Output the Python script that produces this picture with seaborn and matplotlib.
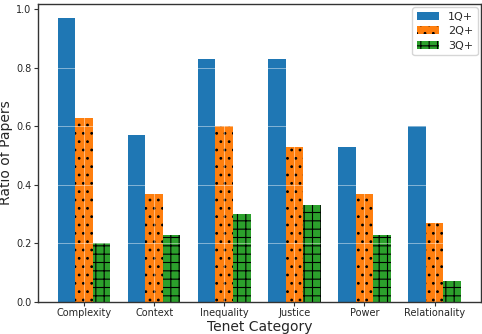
import matplotlib
matplotlib.use("Agg")
import matplotlib.pyplot as plt
import seaborn as sns
import pandas as pd

categories = ["Complexity", "Context", "Inequality", "Justice", "Power", "Relationality"]
series_names = ["1Q+", "2Q+", "3Q+"]
q1 = [0.97, 0.57, 0.83, 0.83, 0.53, 0.60]
q2 = [0.63, 0.37, 0.60, 0.53, 0.37, 0.27]
q3 = [0.20, 0.23, 0.30, 0.33, 0.23, 0.07]

colors = ["#1f77b4", "#ff7f0e", "#2ca02c"]
hatches = ["", "..", "++"]

rows = []
for name, vals in zip(series_names, [q1, q2, q3]):
    for c, v in zip(categories, vals):
        rows.append({"Tenet Category": c, "Series": name, "Ratio": v})
df = pd.DataFrame(rows)

sns.set_style("white")
plt.rcParams["font.family"] = ["DejaVu Sans"]
plt.rcParams["hatch.color"] = "black"
plt.rcParams["hatch.linewidth"] = 0.8

fig, ax = plt.subplots(figsize=(4.82, 3.34), dpi=100)
sns.barplot(data=df, x="Tenet Category", y="Ratio", hue="Series",
            palette=colors, width=0.75, saturation=1, ax=ax,
            linewidth=0, errorbar=None)

for i, cont in enumerate(ax.containers):
    for bar in cont:
        bar.set_hatch(hatches[i])
        bar.set_edgecolor("black")
        bar.set_linewidth(0)

ax.margins(x=0.05, y=0.05)
ax.set_ylim(0, 1.0185)
ax.set_yticks([0.0, 0.2, 0.4, 0.6, 0.8, 1.0])
ax.tick_params(axis="both", labelsize=7, length=3, width=0.8, color="#333333",
               pad=1.5, left=True, bottom=True)
ax.set_xlabel("Tenet Category", fontsize=10, labelpad=1)
ax.set_ylabel("Ratio of Papers", fontsize=10, labelpad=2)

ax.set_axisbelow(False)
ax.grid(True, color="white", linewidth=0.7, alpha=0.45)
for s in ax.spines.values():
    s.set_color("#333333")
    s.set_linewidth(1.0)
    s.set_zorder(4)

handles, labels = ax.get_legend_handles_labels()
for h, ht in zip(handles, hatches):
    h.set_hatch(ht)
    h.set_edgecolor("black")
    h.set_linewidth(0)
leg = ax.legend(handles, labels, loc="upper right", fontsize=8, frameon=True,
                edgecolor="#cccccc", fancybox=True, handlelength=2.0,
                labelspacing=0.4, borderaxespad=0.3)
leg.set_zorder(5)

fig.subplots_adjust(left=0.078, right=0.998, top=0.988, bottom=0.096)
fig.savefig("out.png", dpi=100)
